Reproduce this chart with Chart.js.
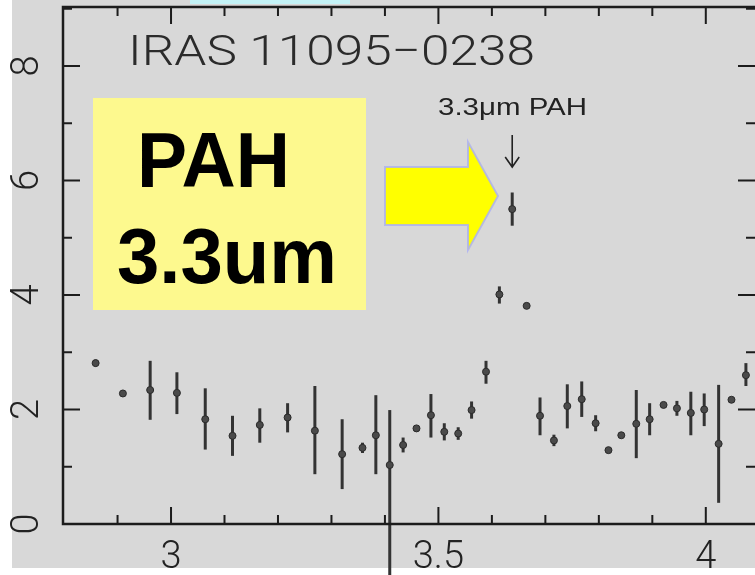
<!DOCTYPE html>
<html><head><meta charset="utf-8">
<script src="https://cdn.jsdelivr.net/npm/chart.js@4"></script>
<style>
html,body{margin:0;padding:0;background:#fff;overflow:hidden}
#wrap{position:relative;width:755px;height:575px}
</style></head>
<body><div id="wrap"><canvas id="c" width="755" height="575"></canvas></div>
<script>
// ---- data ----
const wavelength = [2.859,2.910,2.961,3.011,3.064,3.115,3.166,3.218,3.269,3.320,3.358,3.383,3.409,3.434,3.459,3.486,3.511,3.537,3.562,3.589,3.614,3.638,3.665,3.690,3.716,3.741,3.768,3.794,3.818,3.842,3.870,3.895,3.921,3.946,3.972,3.997,4.024,4.048,4.075];
const flux       = [2.81,2.28,2.34,2.29,1.83,1.54,1.73,1.86,1.63,1.22,1.33,1.55,1.03,1.38,1.67,1.90,1.61,1.58,1.99,2.66,4.01,5.50,3.81,1.89,1.46,2.06,2.18,1.76,1.29,1.55,1.75,1.83,2.08,2.02,1.94,2.00,1.40,2.17,2.60];
const errUp      = [0.06,0.05,0.51,0.36,0.54,0.35,0.29,0.25,0.78,0.61,0.09,0.70,0.96,0.13,0,0.37,0.15,0.11,0.15,0.19,0.14,0.29,0,0.32,0.10,0.38,0.31,0.14,0,0,0.59,0.28,0,0.13,0.37,0.28,1.03,0.04,0.21];
const errDown    = [0.06,0.05,0.52,0.37,0.53,0.35,0.31,0.26,0.76,0.61,0.09,0.68,1.95,0.13,0,0.39,0.15,0.11,0.15,0.21,0.16,0.29,0,0.34,0.10,0.39,0.31,0.14,0,0,0.60,0.28,0,0.13,0.39,0.29,1.03,0.04,0.19];

const xMajorTicks = [3, 3.5, 4];
const xMinorTicks = [2.9, 3.1, 3.2, 3.3, 3.4, 3.6, 3.7, 3.8, 3.9, 4.1];
const yMajorTicks = [0, 2, 4, 6, 8];
const yMinorTicks = [1, 3, 5, 7, 9];
const xRange = [2.798, 4.092];
const yRange = [0, 9.03];

const titleText = 'IRAS 11095\u22120238';
const peakLabel = '3.3\u03bcm PAH';
const peakWavelength = 3.638;
const boxLines = ['PAH', '3.3um'];

// ---- helpers ----
function drawFit(ctx, text, left, baseline, width, font, color) {
  ctx.save();
  ctx.font = font;
  ctx.fillStyle = color;
  ctx.textAlign = 'left';
  ctx.textBaseline = 'alphabetic';
  const w = ctx.measureText(text).width;
  ctx.translate(left, baseline);
  ctx.scale(width / w, 1);
  ctx.fillText(text, 0, 0);
  ctx.restore();
}
function noPad(s) { s.paddingTop = 0; s.paddingBottom = 0; s.paddingLeft = 0; s.paddingRight = 0; }

const bgPlugin = {
  id: 'bg',
  beforeDraw(chart) {
    const ctx = chart.ctx;
    ctx.save();
    ctx.fillStyle = '#ffffff';
    ctx.fillRect(0, 0, 755, 575);
    ctx.fillStyle = '#d8d8d8';
    ctx.fillRect(12, 0, 743, 568);
    ctx.fillStyle = '#c4f3f7';
    ctx.fillRect(190, 0, 160, 4);
    ctx.restore();
  }
};

const errPlugin = {
  id: 'errbars',
  beforeDatasetsDraw(chart) {
    const ctx = chart.ctx, xs = chart.scales.x, ys = chart.scales.y;
    ctx.save();
    ctx.strokeStyle = '#333333';
    ctx.lineWidth = 3;
    ctx.lineCap = 'butt';
    for (let i = 0; i < wavelength.length; i++) {
      if (errUp[i] <= 0 && errDown[i] <= 0) continue;
      const px = xs.getPixelForValue(wavelength[i]);
      const top = ys.getPixelForValue(flux[i] + errUp[i]);
      const bot = ys.getPixelForValue(flux[i] - errDown[i]);
      ctx.beginPath();
      ctx.moveTo(px, top);
      ctx.lineTo(px, bot);
      ctx.stroke();
    }
    ctx.restore();
  }
};

const framePlugin = {
  id: 'frame',
  afterDraw(chart) {
    const ctx = chart.ctx, a = chart.chartArea, xs = chart.scales.x, ys = chart.scales.y;
    ctx.save();
    ctx.strokeStyle = '#1c1c1c';
    ctx.lineWidth = 2;
    const tick = (vals, len) => {
      vals.forEach(v => {
        const px = xs.getPixelForValue(v);
        if (px < a.left || px > a.right) return;
        ctx.beginPath();
        ctx.moveTo(px, a.bottom); ctx.lineTo(px, a.bottom - len);
        ctx.moveTo(px, a.top); ctx.lineTo(px, a.top + len);
        ctx.stroke();
      });
    };
    const ytick = (vals, len) => {
      vals.forEach(v => {
        const py = ys.getPixelForValue(v);
        if (py < a.top || py > a.bottom) return;
        ctx.beginPath();
        ctx.moveTo(a.left, py); ctx.lineTo(a.left + len, py);
        ctx.moveTo(a.right, py); ctx.lineTo(a.right - len, py);
        ctx.stroke();
      });
    };
    tick(xMajorTicks, 17); tick(xMinorTicks, 9);
    ytick(yMajorTicks, 17); ytick(yMinorTicks, 9);
    ctx.lineWidth = 2.5;
    ctx.beginPath();
    ctx.moveTo(a.right, a.top); ctx.lineTo(a.left, a.top);
    ctx.lineTo(a.left, a.bottom); ctx.lineTo(a.right, a.bottom);
    ctx.stroke();
    ctx.restore();
  }
};

const annPlugin = {
  id: 'annotations',
  afterDraw(chart) {
    const ctx = chart.ctx, xs = chart.scales.x;
    ctx.save();
    drawFit(ctx, titleText, 128, 65, 407, '300 42px Roboto, "Liberation Sans", sans-serif', '#2b2b2b');
    ctx.fillStyle = '#fdf98e';
    ctx.fillRect(93, 98, 273, 212);
    drawFit(ctx, boxLines[0], 137, 187, 153, 'bold 78px "Liberation Sans", Arial, sans-serif', '#000');
    drawFit(ctx, boxLines[1], 117, 283, 220, 'bold 78px "Liberation Sans", Arial, sans-serif', '#000');
    ctx.beginPath();
    ctx.moveTo(385, 167); ctx.lineTo(468, 167); ctx.lineTo(468, 142);
    ctx.lineTo(498, 196); ctx.lineTo(468, 250); ctx.lineTo(468, 225);
    ctx.lineTo(385, 225); ctx.closePath();
    ctx.fillStyle = '#ffff00';
    ctx.fill();
    ctx.strokeStyle = 'rgba(170,175,245,0.8)';
    ctx.lineWidth = 2;
    ctx.stroke();
    drawFit(ctx, peakLabel, 438, 115, 149, '24px "Liberation Sans", Arial, sans-serif', '#222');
    const ax = xs.getPixelForValue(peakWavelength);
    ctx.strokeStyle = '#222';
    ctx.lineWidth = 1.6;
    ctx.beginPath();
    ctx.moveTo(ax, 135); ctx.lineTo(ax, 167);
    ctx.moveTo(ax - 7, 157); ctx.lineTo(ax, 167); ctx.lineTo(ax + 7, 157);
    ctx.stroke();
    ctx.restore();
  }
};

const tickFont = { family: 'Roboto, "Liberation Sans", sans-serif', size: 38, weight: '300' };

new Chart(document.getElementById('c'), {
  type: 'scatter',
  data: {
    datasets: [{
      data: wavelength.map((w, i) => ({ x: w, y: flux[i] })),
      pointRadius: 3.5,
      pointBackgroundColor: '#4a4a4a',
      pointBorderColor: '#2a2a2a',
      pointBorderWidth: 1,
      showLine: false
    }]
  },
  options: {
    responsive: false,
    animation: false,
    devicePixelRatio: 1,
    layout: { autoPadding: false, padding: { top: 7, right: 0, left: 0, bottom: 0 } },
    plugins: { legend: { display: false }, tooltip: { enabled: false } },
    scales: {
      x: {
        type: 'linear', position: 'bottom', min: xRange[0], max: xRange[1],
        afterBuildTicks: s => { s.ticks = xMajorTicks.map(v => ({ value: v })); },
        afterFit: s => { s.height = 51; noPad(s); },
        grid: { display: false, drawTicks: false },
        border: { display: false },
        ticks: { font: tickFont, color: '#222', padding: 12, maxRotation: 0, autoSkip: false,
                 callback: v => String(v) }
      },
      y: {
        type: 'linear', position: 'left', min: yRange[0], max: yRange[1],
        afterBuildTicks: s => { s.ticks = yMajorTicks.map(v => ({ value: v })); },
        afterFit: s => { s.width = 63; noPad(s); },
        grid: { display: false, drawTicks: false },
        border: { display: false },
        ticks: { font: tickFont, color: '#222', padding: 24, minRotation: 90, maxRotation: 90,
                 crossAlign: 'center', autoSkip: false, callback: v => String(v) }
      }
    }
  },
  plugins: [bgPlugin, errPlugin, framePlugin, annPlugin]
});
</script>
</body></html>
